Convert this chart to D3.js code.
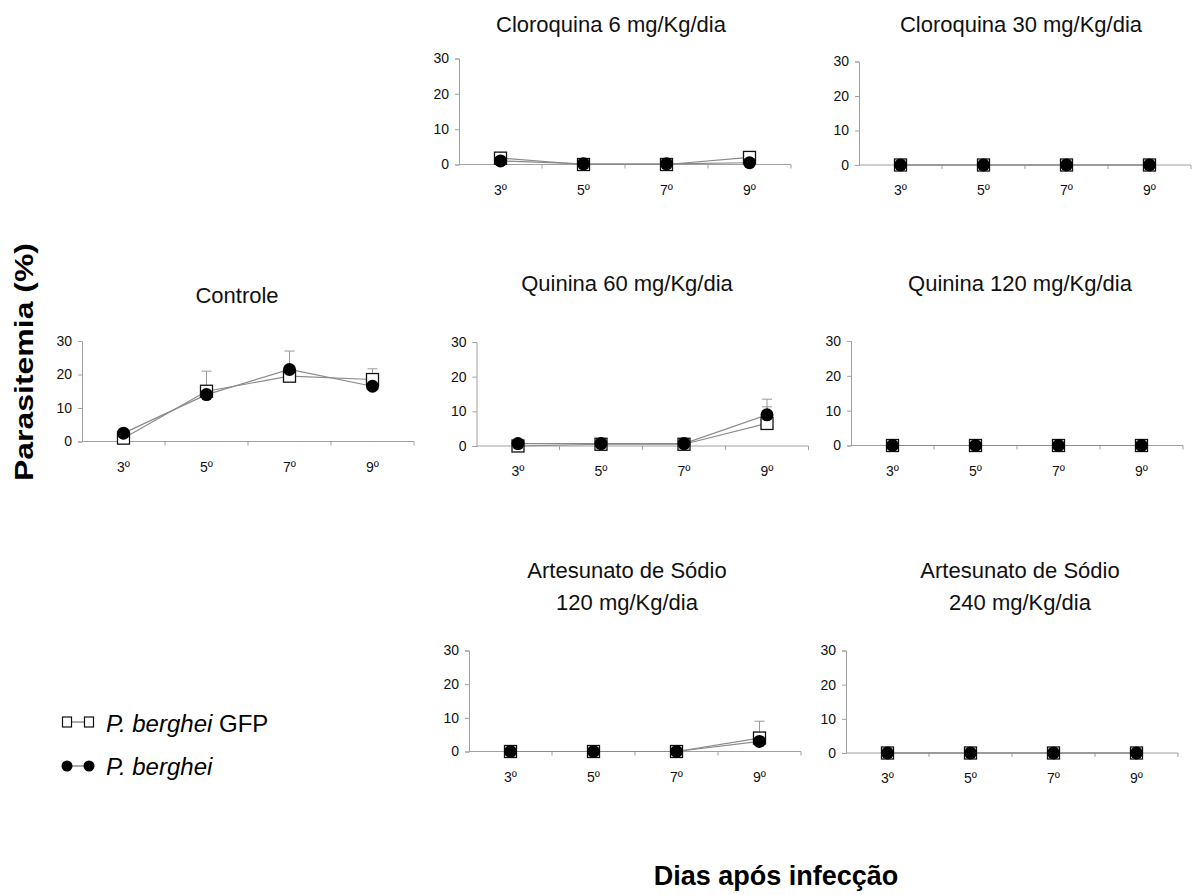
<!DOCTYPE html>
<html>
<head>
<meta charset="utf-8">
<script src="https://cdn.jsdelivr.net/npm/d3@7"></script>
<style>
  html, body { margin: 0; padding: 0; background: #fff; }
  svg { display: block; font-family: "Liberation Sans", Arial, sans-serif; }
</style>
</head>
<body>
<svg id="chart" width="1192" height="895"></svg>
<script>
// Days after infection (x categories) and y-axis ticks
const days = ["3º", "5º", "7º", "9º"];
const yTicks = [0, 10, 20, 30];

// Parasitemia (%) per treatment: P. berghei GFP (squares) and P. berghei (circles)
const controleGFP = [1.0, 15.0, 19.5, 18.5];
const controleWT = [2.5, 14.0, 21.5, 16.5];
const controleGFPErr = [0, 6.0, 0, 3.2];
const controleWTErr = [0, 0, 5.5, 0];

const cloro6GFP = [1.8, 0.0, 0.0, 2.0];
const cloro6WT = [1.0, 0.2, 0.2, 0.5];

const cloro30GFP = [0, 0, 0, 0];
const cloro30WT = [0, 0, 0, 0];

const quin60GFP = [0.0, 0.5, 0.5, 6.5];
const quin60WT = [0.7, 0.7, 0.7, 9.0];
const quin60GFPErr = [0, 0, 0, 4.8];
const quin60WTErr = [0, 0, 0, 4.5];

const quin120GFP = [0, 0, 0, 0];
const quin120WT = [0, 0, 0, 0];

const art120GFP = [0, 0, 0, 4.0];
const art120WT = [0, 0, 0, 3.0];
const art120GFPErr = [0, 0, 0, 5.0];
const art120WTErr = [0, 0, 0, 0];

const art240GFP = [0, 0, 0, 0];
const art240WT = [0, 0, 0, 0];

const zeros = [0, 0, 0, 0];

// Panel titles and data
const panels = [
  { title: ["Controle"], gfp: controleGFP, wt: controleWT, gfpErr: controleGFPErr, wtErr: controleWTErr,
    box: { x: 82, top: 341, bottom: 441.5, titleX: 237, titleY: 303 } },
  { title: ["Cloroquina 6 mg/Kg/dia"], gfp: cloro6GFP, wt: cloro6WT, gfpErr: zeros, wtErr: zeros,
    box: { x: 459, top: 58.5, bottom: 164.5, titleX: 611, titleY: 32 } },
  { title: ["Cloroquina 30 mg/Kg/dia"], gfp: cloro30GFP, wt: cloro30WT, gfpErr: zeros, wtErr: zeros,
    box: { x: 859, top: 61.5, bottom: 165, titleX: 1021, titleY: 32 } },
  { title: ["Quinina 60 mg/Kg/dia"], gfp: quin60GFP, wt: quin60WT, gfpErr: quin60GFPErr, wtErr: quin60WTErr,
    box: { x: 476.5, top: 342, bottom: 446, titleX: 627, titleY: 291 } },
  { title: ["Quinina 120 mg/Kg/dia"], gfp: quin120GFP, wt: quin120WT, gfpErr: zeros, wtErr: zeros,
    box: { x: 851, top: 341, bottom: 445.5, titleX: 1020, titleY: 291 } },
  { title: ["Artesunato de Sódio", "120 mg/Kg/dia"], gfp: art120GFP, wt: art120WT, gfpErr: art120GFPErr, wtErr: art120WTErr,
    box: { x: 469, top: 650.5, bottom: 751.5, titleX: 627, titleY: 578 } },
  { title: ["Artesunato de Sódio", "240 mg/Kg/dia"], gfp: art240GFP, wt: art240WT, gfpErr: zeros, wtErr: zeros,
    box: { x: 846, top: 650.5, bottom: 753, titleX: 1020, titleY: 578 } }
];

const BAND = 83;
const svg = d3.select("#chart");
const axisGrey = "#a0a0a0";
const lineGrey = "#8a8a8a";

panels.forEach(p => {
  const b = p.box;
  const x = d3.scaleBand().domain(days).range([b.x, b.x + BAND * days.length]).padding(0);
  const y = d3.scaleLinear().domain([0, 30]).range([b.bottom, b.top]);
  const g = svg.append("g");

  // title (one or two lines)
  g.append("text")
    .attr("x", b.titleX).attr("y", b.titleY)
    .attr("text-anchor", "middle")
    .attr("font-size", 22).attr("fill", "#111")
    .selectAll("tspan").data(p.title).join("tspan")
    .attr("x", b.titleX).attr("dy", (d, i) => i === 0 ? 0 : 32)
    .text(d => d);

  // y axis
  const yAx = g.append("g").attr("transform", `translate(${b.x},0)`)
    .call(d3.axisLeft(y).tickValues(yTicks).tickSize(4).tickPadding(6));
  yAx.select(".domain").attr("stroke", axisGrey);
  yAx.selectAll(".tick line").attr("stroke", axisGrey);
  yAx.selectAll(".tick text").attr("font-size", 14).attr("fill", "#111")
    .attr("font-family", "'Liberation Sans', Arial, sans-serif");

  // x axis: ticks on band boundaries, labels at band centres
  const xAx = g.append("g").attr("transform", `translate(0,${b.bottom})`);
  xAx.append("line").attr("x1", x.range()[0]).attr("x2", x.range()[1])
    .attr("stroke", axisGrey);
  xAx.selectAll("line.bt").data(days.slice(1)).join("line").attr("class", "bt")
    .attr("x1", d => x(d)).attr("x2", d => x(d)).attr("y1", 0).attr("y2", 4)
    .attr("stroke", axisGrey);
  xAx.append("line").attr("x1", x.range()[1]).attr("x2", x.range()[1]).attr("y1", 0).attr("y2", 4)
    .attr("stroke", axisGrey);
  xAx.selectAll("text").data(days).join("text")
    .attr("x", d => x(d) + x.bandwidth() / 2).attr("y", 30)
    .attr("text-anchor", "middle").attr("font-size", 14).attr("fill", "#111")
    .text(d => d);

  const cxOf = i => x(days[i]) + x.bandwidth() / 2;
  const line = d3.line().x((d, i) => cxOf(i)).y(d => y(d));

  // connecting lines
  g.append("path").datum(p.gfp).attr("d", line).attr("fill", "none")
    .attr("stroke", lineGrey).attr("stroke-width", 1.2);
  g.append("path").datum(p.wt).attr("d", line).attr("fill", "none")
    .attr("stroke", lineGrey).attr("stroke-width", 1.2);

  // upward error bars
  [[p.gfp, p.gfpErr], [p.wt, p.wtErr]].forEach(([vals, errs]) => {
    vals.forEach((v, i) => {
      if (!errs[i]) return;
      const xc = cxOf(i), y1 = y(v), y2 = y(v + errs[i]);
      g.append("line").attr("x1", xc).attr("x2", xc).attr("y1", y1).attr("y2", y2)
        .attr("stroke", "#999").attr("stroke-width", 1);
      g.append("line").attr("x1", xc - 5).attr("x2", xc + 5).attr("y1", y2).attr("y2", y2)
        .attr("stroke", "#999").attr("stroke-width", 1);
    });
  });

  // square markers (GFP)
  g.selectAll("rect.gfp").data(p.gfp).join("rect").attr("class", "gfp")
    .attr("x", (d, i) => cxOf(i) - 6).attr("y", d => y(d) - 6)
    .attr("width", 12).attr("height", 12)
    .attr("fill", "#fff").attr("stroke", "#111").attr("stroke-width", 1.3);

  // circle markers (wild type)
  g.selectAll("circle.wt").data(p.wt).join("circle").attr("class", "wt")
    .attr("cx", (d, i) => cxOf(i)).attr("cy", d => y(d)).attr("r", 6.5)
    .attr("fill", "#000");
});

// Axis titles
svg.append("text")
  .attr("transform", "translate(33,362) rotate(-90)")
  .attr("text-anchor", "middle").attr("font-size", 25).attr("font-weight", "bold")
  .attr("textLength", 238).attr("lengthAdjust", "spacingAndGlyphs")
  .attr("fill", "#000").text("Parasitemia (%)");

svg.append("text")
  .attr("x", 776).attr("y", 885)
  .attr("text-anchor", "middle").attr("font-size", 27).attr("font-weight", "bold")
  .attr("fill", "#000").text("Dias após infecção");

// Legend
const leg = svg.append("g");
leg.append("line").attr("x1", 67).attr("x2", 89).attr("y1", 722).attr("y2", 722)
  .attr("stroke", "#555").attr("stroke-width", 1);
[67, 89].forEach(xx => leg.append("rect").attr("x", xx - 4.5).attr("y", 717)
  .attr("width", 9).attr("height", 10).attr("fill", "#fff").attr("stroke", "#111").attr("stroke-width", 1.2));
const t1 = leg.append("text").attr("x", 106).attr("y", 732).attr("font-size", 24).attr("fill", "#000");
t1.append("tspan").attr("font-style", "italic").text("P. berghei");
t1.append("tspan").text(" GFP");

leg.append("line").attr("x1", 67).attr("x2", 89).attr("y1", 766).attr("y2", 766)
  .attr("stroke", "#555").attr("stroke-width", 1);
[67, 89].forEach(xx => leg.append("circle").attr("cx", xx).attr("cy", 766).attr("r", 5.5).attr("fill", "#000"));
leg.append("text").attr("x", 106).attr("y", 775).attr("font-size", 24).attr("font-style", "italic")
  .attr("fill", "#000").text("P. berghei");
</script>
</body>
</html>
